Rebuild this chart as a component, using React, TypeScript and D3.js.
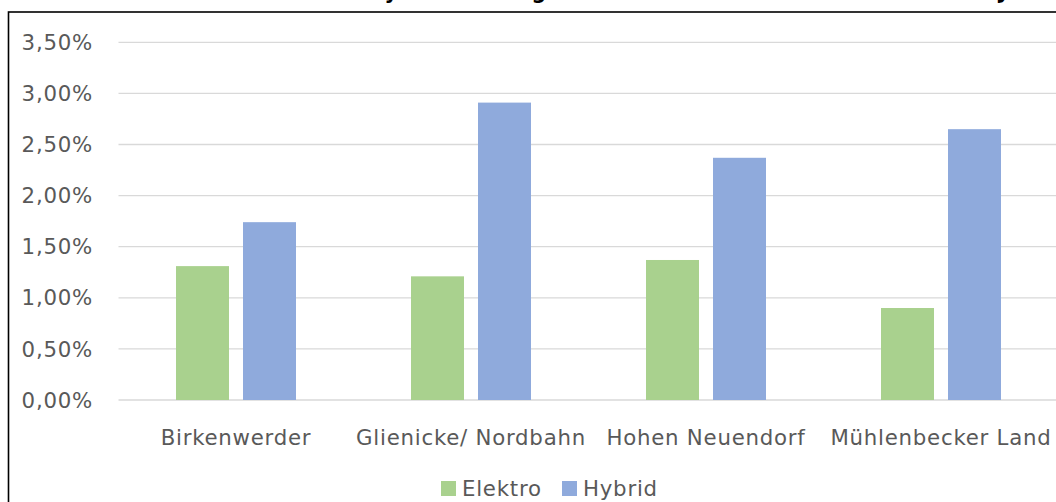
import React from "react";
import * as d3 from "d3";

const categories = ["Birkenwerder", "Glienicke/ Nordbahn", "Hohen Neuendorf", "Mühlenbecker Land"];
const elektro = [0.0131, 0.0121, 0.0137, 0.009];
const hybrid = [0.0174, 0.0291, 0.0237, 0.0265];
const yTicks = [0, 0.005, 0.01, 0.015, 0.02, 0.025, 0.03, 0.035];
const seriesNames = ["Elektro", "Hybrid"];
const colors = ["#A9D18E", "#8FAADC"];
const title = "Anteil von Elektro- und Hybridfahrzeugen am Pkw-Bestand der Gemeinden im Jahr";

const W = 1056;
const H = 502;
const FONT = "DejaVu Sans, Verdana, sans-serif";
const FS = 21.3;
const LS = 0.75;

export default function App() {
  const x0 = d3.scaleBand<string>().domain(categories).range([118.5, 1058.5]).paddingInner(0).paddingOuter(0);
  const y = d3.scaleLinear().domain([0, 0.035]).range([400, 42.3]);
  const barW = 53;
  const gap = 14;
  const fmt = (v: number) => (v * 100).toFixed(2).replace(".", ",") + "%";
  const series = [elektro, hybrid];

  return (
    <svg width={W} height={H} style={{ position: "absolute", left: 0, top: 0, display: "block", background: "#fff" }}>
      <rect x={0} y={0} width={W} height={H} fill="#fff" />
      <text x={95} y={-1} textLength={950} lengthAdjust="spacingAndGlyphs" fontFamily={FONT} fontWeight="bold" fontSize={22} fill="#000">
        {title}
      </text>
      <rect x={8.5} y={12} width={1200} height={600} fill="none" stroke="#000" strokeWidth={1.6} />
      {yTicks.map((t) => (
        <g key={t}>
          <line x1={118.5} x2={1058.5} y1={y(t)} y2={y(t)} stroke="#D9D9D9" strokeWidth={1.3} />
          <text x={93} y={y(t)} dy="0.36em" textAnchor="end" fontFamily={FONT} fontSize={FS} letterSpacing={LS} fill="#595959">
            {fmt(t)}
          </text>
        </g>
      ))}
      {categories.map((c, i) => {
        const cx = (x0(c) as number) + x0.bandwidth() / 2;
        return (
          <g key={c}>
            {series.map((s, j) => {
              const bx = cx - gap / 2 - barW + j * (barW + gap);
              return (
                <rect key={j} x={bx} y={y(s[i])} width={barW} height={y(0) - y(s[i])} fill={colors[j]} />
              );
            })}
            <text x={cx} y={445} textAnchor="middle" fontFamily={FONT} fontSize={FS} letterSpacing={LS} fill="#595959">
              {c}
            </text>
          </g>
        );
      })}
      <g>
        {seriesNames.map((n, j) => {
          const lx = j === 0 ? 441 : 562;
          return (
            <g key={n}>
              <rect x={lx} y={481} width={15} height={15} fill={colors[j]} />
              <text x={lx + 21} y={495.5} fontFamily={FONT} fontSize={FS} letterSpacing={LS} fill="#595959">
                {n}
              </text>
            </g>
          );
        })}
      </g>
    </svg>
  );
}
